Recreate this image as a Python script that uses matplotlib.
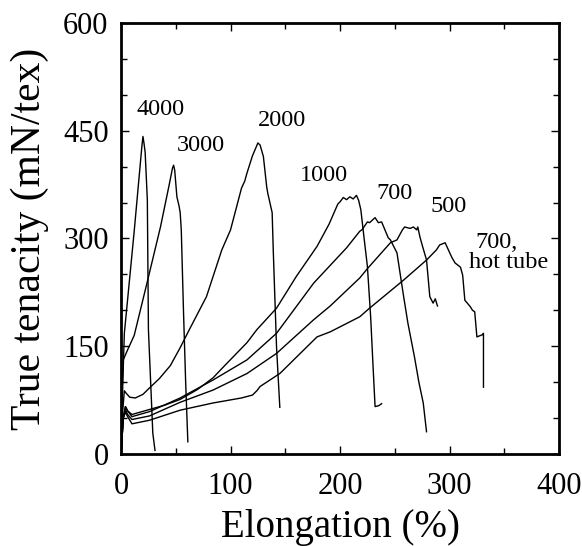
import numpy as np
import matplotlib.pyplot as plt
from matplotlib.ticker import MultipleLocator

plt.rcParams['font.family'] = ['Liberation Serif', 'DejaVu Serif']

# draw ratio curves: elongation (%), true tenacity (mN/tex)
x_4000 = [0, 0.5, 2, 3, 12, 19, 20, 21, 22, 24, 25, 29, 31]
y_4000 = [0, 40, 120, 168, 310, 428, 442, 432, 420, 354, 173, 29, 5]

x_3000 = [0, 1, 2, 6, 12, 24, 36, 44, 47, 48, 49, 51, 53, 54, 55, 57, 59, 61]
y_3000 = [0, 90, 131, 145, 165, 240, 316, 375, 398, 402, 395, 358, 345, 336, 312, 200, 100, 17]

x_2000 = [0, 1, 3, 5, 8, 13, 20, 26, 35, 45, 54, 63, 78, 92, 100, 110, 113, 115,
          120, 125, 127, 130, 133, 134, 138, 139, 142, 145]
y_2000 = [0, 50, 88, 84, 79, 78, 83, 92, 105, 123, 148, 175, 219, 284, 312, 370, 380, 391,
          415, 433, 430, 414, 372, 363, 336, 284, 149, 65]

x_1000 = [0, 2, 4, 6, 10, 26, 40, 54, 70, 84, 94, 115, 124, 142, 160, 179, 190,
          198, 200, 203, 206, 209, 212, 215, 217, 219, 222, 225, 228, 230, 232, 235, 238]
y_1000 = [0, 50, 66, 60, 55, 62, 68, 76, 90, 106, 122, 155, 173, 203, 247, 289, 320,
          348, 351, 357, 354, 358, 355, 360, 353, 340, 300, 261, 190, 127, 66, 67, 70]

x_700 = [0, 2, 4, 6, 10, 26, 54, 84, 115, 142, 176, 206, 218, 220, 225, 227, 232,
         235, 238, 241, 244, 246, 252, 258, 262, 268, 272, 276, 279]
y_700 = [0, 50, 66, 60, 52, 59, 78, 103, 131, 168, 238, 287, 310, 312, 323, 322, 329,
         322, 323, 312, 301, 298, 280, 220, 182, 135, 100, 71, 31]

x_500 = [0, 2, 4, 6, 10, 26, 54, 84, 115, 142, 176, 191, 218, 225, 246, 252, 257,
         259, 264, 267, 270, 271, 273, 275, 279, 282, 285, 287, 289]
y_500 = [0, 50, 62, 55, 48, 53, 72, 89, 112, 140, 187, 206, 245, 258, 294, 298, 312,
         316, 314, 316, 312, 316, 302, 291, 270, 219, 210, 216, 206]

x_hot = [0, 2, 4, 6, 10, 26, 54, 84, 110, 120, 124, 127, 145, 179, 191, 218, 227,
         258, 279, 288, 291, 296, 299, 302, 305, 310, 312, 314, 319, 321, 323, 325,
         330, 331, 331]
y_hot = [0, 50, 58, 52, 42, 47, 61, 71, 78, 82, 88, 94, 112, 163, 170, 191, 203,
         242, 270, 284, 291, 294, 284, 274, 266, 260, 249, 214, 205, 200, 198, 163,
         166, 168, 93]

curves = [(x_4000, y_4000), (x_3000, y_3000), (x_2000, y_2000), (x_1000, y_1000),
          (x_700, y_700), (x_500, y_500), (x_hot, y_hot)]

label_text = ['4000', '3000', '2000', '1000', '700', '500', '700,', 'hot tube']
label_x = [36.5, 73, 147, 185, 250, 299, 343, 354]
label_y = [479, 430, 464, 387, 362, 344, 294, 267]

fig = plt.figure(figsize=(5.82, 5.46), dpi=100)
ax = fig.add_axes([0.208, 0.1685, 0.7525, 0.7895])

for x, y in curves:
    ax.plot(x, y, color='black', lw=1.0)

for t, lx, ly in zip(label_text, label_x, label_y):
    ax.text(lx, ly, t, fontsize=17.5, ha='center', va='center')

ax.set_xlim(0, 400)
ax.set_ylim(0, 600)
ax.xaxis.set_major_locator(MultipleLocator(100))
ax.xaxis.set_minor_locator(MultipleLocator(50))
ax.yaxis.set_major_locator(MultipleLocator(150))
ax.yaxis.set_minor_locator(MultipleLocator(50))
ax.tick_params(which='both', direction='in', top=True, right=True, width=1)
ax.tick_params(which='major', length=6, labelsize=22)
ax.tick_params(which='minor', length=4)
ax.tick_params(axis='x', pad=13)
ax.tick_params(axis='y', pad=9)
for s in ax.spines.values():
    s.set_linewidth(2)

ax.set_xlabel('Elongation (%)', fontsize=28, labelpad=6)
ax.set_ylabel('True tenacity (mN/tex)', fontsize=30, labelpad=10)

fig.savefig('out.png', dpi=100)
